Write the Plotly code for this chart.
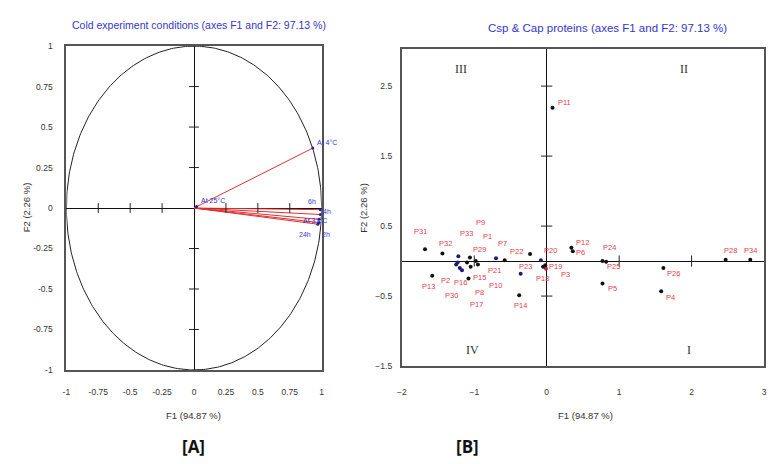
import numpy as np
import plotly.graph_objects as go

# ---------------- Data ----------------
# Panel A: correlation circle (variables)
var_names = ["At 4°C", "At 25°C", "6h", "4h", "At 37°C", "24h", "2h"]
var_f1 = [0.93, 0.02, 0.99, 0.99, 0.98, 0.98, 0.97]
var_f2 = [0.37, 0.01, -0.01, -0.04, -0.07, -0.09, -0.10]

# Panel B: observations (proteins)
prot_names = ["P31", "P32", "P33", "P9", "P1", "P29", "P7", "P22", "P20", "P12",
              "P6", "P24", "P25", "P28", "P34", "P26", "P4", "P5", "P3", "P19",
              "P18", "P23", "P14", "P21", "P10", "P8", "P17", "P15", "P16", "P2",
              "P30", "P13", "P11"]
prot_f1 = [-1.68, -1.44, -1.22, -1.06, -0.98, -1.10, -0.58, -0.23, -0.08, 0.34,
           0.36, 0.77, 0.82, 2.47, 2.81, 1.61, 1.58, 0.77, -0.01, -0.02,
           -0.05, -0.36, -0.38, -0.70, -0.95, -1.05, -1.17, -1.08, -1.20, -1.25,
           -1.23, -1.58, 0.08]
prot_f2 = [0.17, 0.11, 0.07, 0.05, 0.00, -0.02, 0.01, 0.10, 0.01, 0.19,
           0.14, 0.00, -0.01, 0.02, 0.02, -0.10, -0.43, -0.32, -0.11, -0.06,
           -0.08, -0.18, -0.49, 0.04, -0.05, -0.08, -0.13, -0.25, -0.10, -0.05,
           -0.02, -0.21, 2.19]
prot_group = ["k", "k", "b", "k", "k", "k", "k", "k", "b", "k",
              "k", "k", "k", "k", "k", "k", "k", "k", "r", "k",
              "k", "b", "k", "b", "k", "k", "b", "k", "b", "b",
              "b", "k", "k"]

quad_labels = ["III", "II", "IV", "I"]
quad_f1 = [-1.18, 1.89, -1.03, 1.97]
quad_f2 = [2.75, 2.75, -1.27, -1.27]

ticks_a = [-1, -0.75, -0.5, -0.25, 0, 0.25, 0.5, 0.75, 1]
tick_text_a = ["-1", "-0.75", "-0.5", "-0.25", "0", "0.25", "0.5", "0.75", "1"]
ticks_bx = [-2, -1, 0, 1, 2, 3]
ticks_by = [-1.5, -0.5, 0.5, 1.5, 2.5]

title_a = "Cold experiment conditions (axes F1 and F2: 97.13 %)"
title_b = "Csp & Cap proteins (axes F1 and F2: 97.13 %)"
xlab = "F1 (94.87 %)"
ylab = "F2 (2.26 %)"
radius = 1.0

# ---------------- Styles ----------------
var_label_shift = [(14, 6), (16, 6), (-8, 8), (7, 3), (-4, -1), (-14, -12), (8, -10)]
prot_label_shift = [(-5, 18), (3, 10), (8, 23), (11, 35), (12, 25), (12, 13), (-2, 17),
                    (-14, 3), (10, 10), (11, 5), (8, -1), (7, 14), (7, -5), (5, 9),
                    (0, 9), (10, -5), (9, -6), (10, -5), (20, -6), (10, -1), (-1, -12),
                    (5, 7), (1, -10), (-2, -12), (18, -21), (9, -26), (15, -34), (11, 1),
                    (1, -14), (-11, -16), (-6, -33), (-4, -11), (12, 5)]
grp_color = {"k": "#111111", "b": "#1c1c7a", "r": "#c0203a"}
FONT = "Liberation Sans Narrow, Liberation Sans, Arial, sans-serif"
BLUE = "#3535d0"
RED_LBL = "#e8404a"

fig = go.Figure()

# ---- Panel A ----
theta = np.linspace(0, 2 * np.pi, 400)
fig.add_trace(go.Scatter(x=radius * np.cos(theta), y=radius * np.sin(theta), mode="lines",
                         line=dict(color="#222222", width=1), xaxis="x", yaxis="y",
                         hoverinfo="skip", showlegend=False))
for f1, f2 in zip(var_f1, var_f2):
    fig.add_trace(go.Scatter(x=[0, f1], y=[0, f2], mode="lines",
                             line=dict(color="#e03030", width=1), xaxis="x", yaxis="y",
                             hoverinfo="skip", showlegend=False))
fig.add_trace(go.Scatter(x=var_f1, y=var_f2, mode="markers",
                         marker=dict(color="#2020a0", size=3), xaxis="x", yaxis="y",
                         showlegend=False))
inner_a = [t for t in ticks_a if t not in (-1, 0, 1)]
fig.add_trace(go.Scatter(x=inner_a, y=[0] * len(inner_a), mode="markers",
                         marker=dict(symbol="line-ns", size=7, line=dict(width=1, color="#222")),
                         xaxis="x", yaxis="y", hoverinfo="skip", showlegend=False))
fig.add_trace(go.Scatter(x=[0] * len(inner_a), y=inner_a, mode="markers",
                         marker=dict(symbol="line-ew", size=7, line=dict(width=1, color="#222")),
                         xaxis="x", yaxis="y", hoverinfo="skip", showlegend=False))

# ---- Panel B ----
fig.add_trace(go.Scatter(x=prot_f1, y=prot_f2, mode="markers",
                         marker=dict(color=[grp_color[g] for g in prot_group], size=4),
                         text=prot_names, xaxis="x2", yaxis="y2", showlegend=False))
inner_bx = [t for t in ticks_bx if t not in (-2, 0, 3)]
inner_by = [t for t in ticks_by if t != -1.5]
fig.add_trace(go.Scatter(x=inner_bx, y=[0] * len(inner_bx), mode="markers",
                         marker=dict(symbol="line-ns", size=8, line=dict(width=1, color="#222")),
                         xaxis="x2", yaxis="y2", hoverinfo="skip", showlegend=False))
fig.add_trace(go.Scatter(x=[0] * len(inner_by), y=inner_by, mode="markers",
                         marker=dict(symbol="line-ew", size=8, line=dict(width=1, color="#222")),
                         xaxis="x2", yaxis="y2", hoverinfo="skip", showlegend=False))

ann = []
for n, f1, f2, (dx, dy) in zip(var_names, var_f1, var_f2, var_label_shift):
    ann.append(dict(x=f1, y=f2, xref="x", yref="y", text=n, showarrow=False,
                    xshift=dx, yshift=dy, font=dict(family=FONT, size=7, color=BLUE)))
for n, f1, f2, (dx, dy) in zip(prot_names, prot_f1, prot_f2, prot_label_shift):
    ann.append(dict(x=f1, y=f2, xref="x2", yref="y2", text=n, showarrow=False,
                    xshift=dx, yshift=dy, font=dict(family=FONT, size=7.5, color=RED_LBL)))
for n, f1, f2 in zip(quad_labels, quad_f1, quad_f2):
    ann.append(dict(x=f1, y=f2, xref="x2", yref="y2", text=n, showarrow=False,
                    font=dict(family="Liberation Serif, Times New Roman, serif", size=12, color="#333")))


def paper_text(px, py, text, size, color, family=FONT, angle=0):
    return dict(x=px / 771, y=1 - py / 464, xref="paper", yref="paper", text=text,
                showarrow=False, xanchor="center", yanchor="middle", textangle=angle,
                font=dict(family=family, size=size, color=color))


ann += [
    paper_text(196, 20, title_a, 10.5, BLUE),
    paper_text(609, 23, title_b, 11.5, BLUE),
    paper_text(190, 420, xlab, 9.5, "#333"),
    paper_text(587, 420, xlab, 9.5, "#333"),
    paper_text(22, 207, ylab, 9.5, "#333", angle=-90),
    paper_text(362, 207, ylab, 9.5, "#333", angle=-90),
    paper_text(190, 451, "<b>[A]</b>", 17, "#111", family="Open Sans, DejaVu Sans, sans-serif"),
    paper_text(467, 451, "<b>[B]</b>", 17, "#111", family="Open Sans, DejaVu Sans, sans-serif"),
]

axis_common = dict(showgrid=False, zeroline=True, zerolinecolor="#111", zerolinewidth=1,
                   showline=True, linecolor="#555", linewidth=2, mirror=True, ticks="",
                   tickfont=dict(family=FONT, size=8.5, color="#333"))

fig.update_layout(
    width=771, height=464, margin=dict(l=0, r=0, t=0, b=0),
    paper_bgcolor="white", plot_bgcolor="white", showlegend=False,
    annotations=ann,
    xaxis=dict(domain=[62 / 771, 320 / 771], range=[-1, 1], tickvals=ticks_a, ticktext=tick_text_a,
               anchor="y", ticklabelstandoff=13, **axis_common),
    yaxis=dict(domain=[1 - 373 / 464, 1 - 42 / 464], range=[-1, 1], tickvals=ticks_a, ticktext=tick_text_a,
               anchor="x", ticklabelstandoff=10, **axis_common),
    xaxis2=dict(domain=[401 / 771, 767 / 771], range=[-2, 3], tickvals=ticks_bx, anchor="y2",
                ticklabelstandoff=17, **axis_common),
    yaxis2=dict(domain=[1 - 369 / 464, 1 - 45 / 464], range=[-1.5, 3.03], tickvals=ticks_by, anchor="x2",
                ticklabelstandoff=6, **axis_common),
)

fig.write_html("out.html", config={"displayModeBar": False},
               post_script="document.body.style.margin='0px';")
